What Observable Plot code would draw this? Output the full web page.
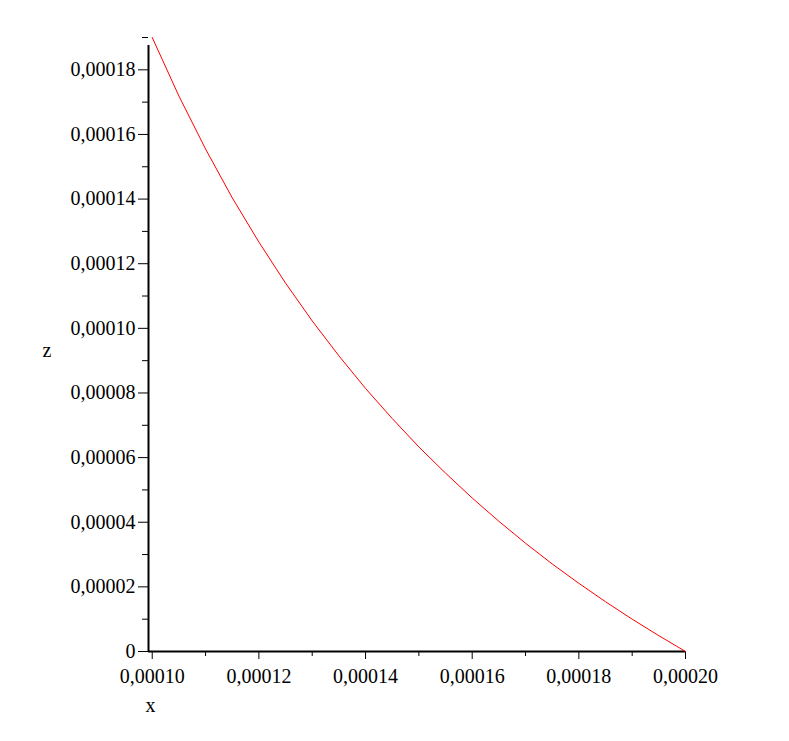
<!DOCTYPE html>
<html>
<head>
<meta charset="utf-8">
<script src="https://cdn.jsdelivr.net/npm/d3@7"></script>
<script src="https://cdn.jsdelivr.net/npm/@observablehq/plot@0.6"></script>
<style>
  html, body { margin: 0; padding: 0; background: #fff; }
  #chart svg { display: block; }
</style>
</head>
<body>
<div id="chart"></div>
<script>
// Curve
const xValues = [0.000100, 0.000105, 0.000110, 0.000115, 0.000120, 0.000125, 0.000130,
  0.000135, 0.000140, 0.000145, 0.000150, 0.000155, 0.000160, 0.000165, 0.000170,
  0.000175, 0.000180, 0.000185, 0.000190, 0.000195, 0.000200];
const zValues = [0.0001900, 0.0001719, 0.0001555, 0.0001404, 0.0001267, 0.0001140, 0.0001023,
  0.0000915, 0.0000814, 0.0000721, 0.0000633, 0.0000552, 0.0000475, 0.0000403, 0.0000335,
  0.0000271, 0.0000211, 0.0000154, 0.0000100, 0.0000049, 0.0000000];

// Ticks
const xTicks = [0.00010, 0.00012, 0.00014, 0.00016, 0.00018, 0.00020];
const xMinorTicks = [0.00011, 0.00013, 0.00015, 0.00017, 0.00019];
const yTicks = [0, 0.00002, 0.00004, 0.00006, 0.00008, 0.00010, 0.00012, 0.00014, 0.00016, 0.00018];
const yMinorTicks = [0.00001, 0.00003, 0.00005, 0.00007, 0.00009, 0.00011, 0.00013, 0.00015, 0.00017, 0.00019];
const xDomain = [0.0000993, 0.00020];
const yDomain = [0, 0.00019];
const xLabel = "x";
const zLabel = "z";

const data = xValues.map((x, i) => ({x, z: zValues[i]}));
const fmt = v => v === 0 ? "0" : d3.format(".5f")(v).replace(".", ",");

const chart = Plot.plot({
  width: 789,
  height: 741,
  marginLeft: 148,
  marginRight: 104,
  marginTop: 37,
  marginBottom: 90,
  style: {fontFamily: "'Liberation Serif', serif", color: "#000", background: "#fff"},
  x: {domain: xDomain, axis: null},
  y: {domain: yDomain, axis: null},
  marks: [
    Plot.axisY({ticks: yTicks, tickSize: 10, tickPadding: 3, tickFormat: fmt, fontSize: 20, anchor: "left", label: null}),
    Plot.axisY({ticks: yMinorTicks, tickSize: 6, text: null, anchor: "left", label: null}),
    Plot.axisX({ticks: xTicks, tickSize: 8, tickPadding: 9, tickFormat: fmt, fontSize: 20, anchor: "bottom", label: null}),
    Plot.axisX({ticks: xMinorTicks, tickSize: 5, text: null, anchor: "bottom", label: null}),
    Plot.ruleX([xDomain[0]], {y1: yDomain[0], y2: yDomain[1], stroke: "#000", strokeWidth: 2, insetBottom: -8}),
    Plot.ruleY([0], {x1: xDomain[0], x2: xDomain[1], stroke: "#000", strokeWidth: 2}),
    Plot.line(data, {x: "x", y: "z", stroke: "#ff0000", strokeWidth: 1}),
    Plot.text([zLabel], {frameAnchor: "left", dx: -106, dy: 6, fontSize: 20, textAnchor: "start"}),
    Plot.text([xLabel], {frameAnchor: "bottom-left", dx: 2, dy: 60, fontSize: 20, textAnchor: "middle"})
  ]
});
document.getElementById("chart").appendChild(chart);
</script>
</body>
</html>
